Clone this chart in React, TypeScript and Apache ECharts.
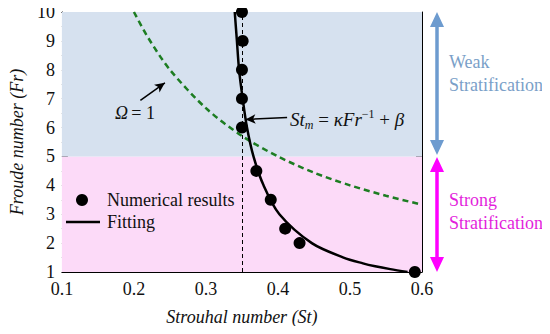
import React, { useEffect, useRef } from "react";
import * as echarts from "echarts";

// Numerical results (St, Fr)
const numSt = [0.35, 0.351, 0.35, 0.35, 0.35, 0.37, 0.39, 0.41, 0.43, 0.59];
const numFr = [10, 9, 8, 7, 6, 4.5, 3.5, 2.5, 2, 1];

// Fitting curve
const fitSt = [0.34, 0.343, 0.346, 0.351, 0.357, 0.366, 0.38, 0.402, 0.447, 0.491, 0.518, 0.535, 0.556, 0.58];
const fitFr = [10, 9, 8, 7, 6, 5, 4, 3, 2, 1.5, 1.3, 1.2, 1.1, 1];

// Omega = 1 curve
const omSt = [0.2, 0.22, 0.25, 0.3, 0.35, 0.4, 0.45, 0.5, 0.55, 0.6];
const omFr = [10, 9.1, 8, 6.67, 5.71, 5, 4.44, 4, 3.64, 3.33];

const xTicks = [0.1, 0.2, 0.3, 0.4, 0.5, 0.6];
const yTicks = [1, 2, 3, 4, 5, 6, 7, 8, 9, 10];

const SERIF = "Liberation Serif";

const txt = (x: number, y: number, text: string, fill: string) => ({
  type: "text", x, y, z: 100,
  style: { text, fontFamily: SERIF, fontSize: 18, fill, verticalAlign: "middle" },
});

export default function App() {
  const ref = useRef<HTMLDivElement>(null);
  useEffect(() => {
    if (!ref.current) return;
    const chart = echarts.init(ref.current, undefined, { renderer: "svg" });
    const zip = (a: number[], b: number[]) => a.map((v, i) => [v, b[i]]);
    const axisCommon = {
      type: "value" as const,
      axisLine: { show: true, onZero: false, lineStyle: { color: "#000", width: 1 } },
      axisTick: { show: true, inside: true, length: 6, lineStyle: { color: "#000" } },
      minorTick: { show: true, splitNumber: 2, length: 3, lineStyle: { color: "#000" } },
      splitLine: { show: false },
    };
    chart.setOption({
      animation: false,
      textStyle: { fontFamily: SERIF },
      grid: { left: 59, right: 128, top: 12, bottom: 62 },
      xAxis: [
        {
          ...axisCommon,
          min: xTicks[0],
          max: xTicks[xTicks.length - 1],
          interval: 0.1,
          name: "Strouhal number (St)",
          nameLocation: "middle",
          nameGap: 36,
          nameTextStyle: { fontFamily: SERIF, fontStyle: "italic", fontSize: 18, color: "#111" },
          axisLabel: {
            fontFamily: SERIF, fontSize: 18, color: "#111", margin: 8,
            formatter: (v: number) => v.toFixed(1),
          },
        },
        {
          ...axisCommon,
          position: "top",
          min: xTicks[0],
          max: xTicks[xTicks.length - 1],
          interval: 0.1,
          axisLabel: { show: false },
        },
      ],
      yAxis: [
        {
          ...axisCommon,
          min: yTicks[0],
          max: yTicks[yTicks.length - 1],
          interval: 1,
          name: "Froude number (Fr)",
          nameLocation: "middle",
          nameGap: 34,
          nameTextStyle: { fontFamily: SERIF, fontStyle: "italic", fontSize: 18, color: "#111" },
          axisLabel: { fontFamily: SERIF, fontSize: 18, color: "#111", margin: 7 },
        },
        {
          ...axisCommon,
          position: "right",
          min: yTicks[0],
          max: yTicks[yTicks.length - 1],
          interval: 1,
          axisLabel: { show: false },
        },
      ],
      series: [
        {
          type: "line",
          data: [],
          z: 1,
          markArea: {
            silent: true,
            data: [
              [{ yAxis: 1, itemStyle: { color: "#fcdaf8" } }, { yAxis: 5 }],
              [{ yAxis: 5, itemStyle: { color: "#d6e1ef" } }, { yAxis: 10 }],
            ],
          },
          markLine: {
            silent: true,
            symbol: ["none", "none"],
            label: { show: false },
            lineStyle: { color: "#000", type: [4, 3], width: 1 },
            data: [[{ coord: [0.35, 1] }, { coord: [0.35, 10] }]],
          },
        },
        {
          type: "line",
          data: zip(omSt, omFr),
          smooth: 0.3,
          showSymbol: false,
          lineStyle: { color: "#1d7d22", width: 2.5, type: [6, 4] },
        },
        {
          type: "line",
          data: zip(fitSt, fitFr),
          smooth: 0.3,
          showSymbol: false,
          lineStyle: { color: "#000", width: 2.5 },
        },
        {
          type: "scatter",
          data: zip(numSt, numFr),
          symbolSize: 12,
          itemStyle: { color: "#000", opacity: 1 },
          markLine: {
            silent: true,
            symbol: ["none", "arrow"],
            symbolSize: [7, 10],
            label: { show: false },
            lineStyle: { color: "#000", type: "solid", width: 1.5 },
            data: [
              [{ coord: [0.209, 6.94] }, { coord: [0.243, 7.55] }],
              [{ coord: [0.4127, 6.35] }, { coord: [0.355, 6.28] }],
            ],
          },
        },
      ],
      graphic: [
        // legend
        { type: "circle", z: 100, shape: { cx: 82, cy: 200, r: 6 }, style: { fill: "#000" } },
        txt(107, 200, "Numerical results", "#111"),
        { type: "line", z: 100, shape: { x1: 66, y1: 222, x2: 100, y2: 222 }, style: { stroke: "#000", lineWidth: 2.5 } },
        txt(107, 222, "Fitting", "#111"),
        // Omega label
        {
          type: "text", x: 115, y: 113, z: 100,
          style: {
            text: "{i|Ω} {n|= 1}", verticalAlign: "middle",
            rich: {
              i: { fontFamily: SERIF, fontStyle: "italic", fontSize: 18, fill: "#111" },
              n: { fontFamily: SERIF, fontSize: 18, fill: "#111" },
            },
          },
        },
        // equation
        {
          type: "text", x: 290, y: 119, z: 100,
          style: {
            text: "{i|St}{sub|m}{n| = }{i|κFr}{sup|−1}{n| + }{i|β}", verticalAlign: "middle",
            rich: {
              i: { fontFamily: SERIF, fontStyle: "italic", fontSize: 19, fill: "#111" },
              n: { fontFamily: SERIF, fontSize: 19, fill: "#111" },
              sub: { fontFamily: SERIF, fontStyle: "italic", fontSize: 12, fill: "#111", padding: [11, 0, 0, 0] },
              sup: { fontFamily: SERIF, fontSize: 12, fill: "#111", padding: [0, 0, 10, 0] },
            },
          },
        },
        // Weak stratification arrow
        { type: "line", z: 100, shape: { x1: 437, y1: 24, x2: 437, y2: 143 }, style: { stroke: "#6d9bcf", lineWidth: 3.5 } },
        { type: "polygon", z: 100, shape: { points: [[437, 12], [430, 27], [444, 27]] }, style: { fill: "#6d9bcf" } },
        { type: "polygon", z: 100, shape: { points: [[437, 155], [430, 140], [444, 140]] }, style: { fill: "#6d9bcf" } },
        txt(449, 62, "Weak", "#7aa0c8"),
        txt(449, 85, "Stratification", "#7aa0c8"),
        // Strong stratification arrow
        { type: "line", z: 100, shape: { x1: 437, y1: 169, x2: 437, y2: 260 }, style: { stroke: "#ff00ff", lineWidth: 3.5 } },
        { type: "polygon", z: 100, shape: { points: [[437, 157], [430, 172], [444, 172]] }, style: { fill: "#ff00ff" } },
        { type: "polygon", z: 100, shape: { points: [[437, 272], [430, 257], [444, 257]] }, style: { fill: "#ff00ff" } },
        txt(449, 200, "Strong", "#e31fdc"),
        txt(449, 223, "Stratification", "#e31fdc"),
      ],
    });
    return () => chart.dispose();
  }, []);
  return <div ref={ref} style={{ width: 550, height: 334, margin: -8 }} />;
}
